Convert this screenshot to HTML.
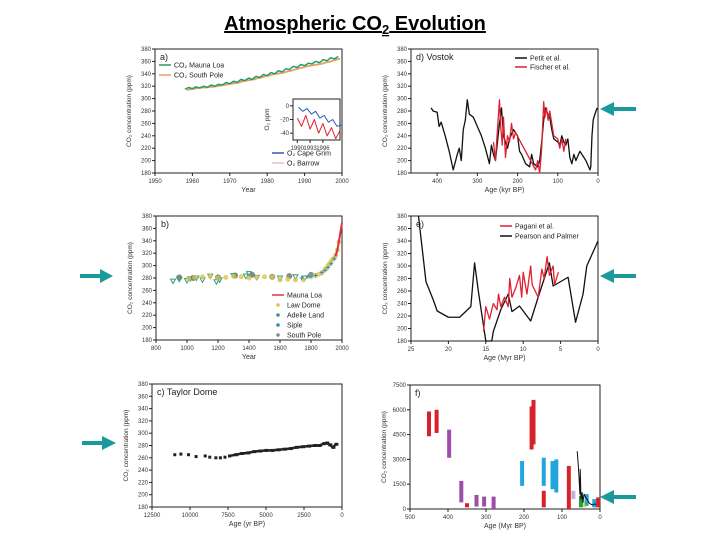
<!DOCTYPE html>
<html><head><meta charset="utf-8">
<style>
body{margin:0;background:#fff;}
svg{display:block;font-family:"Liberation Sans",sans-serif;}
</style></head>
<body>
<svg id="fig" width="720" height="540" viewBox="0 0 720 540">
<text x="355" y="30" text-anchor="middle" font-size="20" font-weight="bold" text-decoration="underline">Atmospheric CO<tspan font-size="13" dy="4">2</tspan><tspan dy="-4"> Evolution</tspan></text>
<g id="arrows">
<g><rect x="612" y="107" width="24" height="4" fill="#1a9a9a"/><polygon points="600,109 614,102 614,116" fill="#1a9a9a"/></g>
<g><rect x="612" y="274" width="24" height="4" fill="#1a9a9a"/><polygon points="600,276 614,269 614,283" fill="#1a9a9a"/></g>
<g><rect x="80" y="274" width="22" height="4" fill="#1a9a9a"/><polygon points="113,276 100,269 100,283" fill="#1a9a9a"/></g>
<g><rect x="82" y="441" width="22" height="4" fill="#1a9a9a"/><polygon points="116,443 102,436 102,450" fill="#1a9a9a"/></g>
<g><rect x="612" y="495" width="24" height="4" fill="#1a9a9a"/><polygon points="600,497 614,490 614,504" fill="#1a9a9a"/></g>
</g>
</svg>
<script>
// ---- data ----
const co2Ticks = [180,200,220,240,260,280,300,320,340,360,380];
const aYears = [1958,1959,1960,1961,1962,1963,1964,1965,1966,1967,1968,1969,1970,1971,1972,1973,1974,1975,1976,1977,1978,1979,1980,1981,1982,1983,1984,1985,1986,1987,1988,1989,1990,1991,1992,1993,1994,1995,1996,1997,1998,1999];
const aMaunaLoa = [315,318,316,319,317,320,318,322,320,323,322,326,324,328,326,331,329,333,331,336,334,339,337,342,340,345,343,348,347,352,350,355,353,357,356,360,358,363,361,366,364,368];
const aSouthPole = [314,315,316,317,318,318,319,319,320,321,322,323,324,325,326,328,329,330,331,333,334,336,337,339,340,341,342,344,345,347,349,350,352,353,354,355,356,358,359,361,363,364];
const aXTicks = [1950,1960,1970,1980,1990,2000];
const insetYears = [1990,1991,1992,1993,1994,1995,1996,1997,1998,1999,2000];
const insetCapeGrim = [-2,-8,-4,-12,-8,-18,-14,-24,-20,-30,-28];
const insetBarrow = [-18,-30,-14,-34,-20,-40,-26,-44,-32,-48,-36];

const bLawDome = [[1010,279],[1050,281],[1100,282],[1150,283],[1200,280],[1250,281],[1300,283],[1350,282],[1400,280],[1450,281],[1500,282],[1550,282],[1600,277],[1650,278],[1700,277],[1750,277],[1800,282],[1830,284],[1850,286],[1870,288],[1890,294],[1900,296],[1910,300],[1920,303],[1930,307],[1940,310],[1950,312],[1960,317],[1970,325],[1980,338]];
const bAdelie = [[910,275],[950,278],[1000,276],[1020,279],[1060,280],[1100,277],[1150,283],[1190,274],[1210,277],[1300,284],[1380,283],[1400,287],[1450,281],[1600,280],[1700,282],[1760,280]];
const bSiple = [[1740,280],[1780,282],[1800,283],[1830,284],[1870,289],[1890,292],[1910,297],[1930,303],[1950,311]];
const bSouthPole = [[950,281],[1040,280],[1200,281],[1310,284],[1420,285],[1550,282],[1660,283],[1800,285]];
const bMaunaLoa = [[1958,315],[1970,325],[1980,339],[1990,354],[2000,369]];
const bXTicks = [800,1000,1200,1400,1600,1800,2000];

const cTaylor = [[11000,265],[10600,266],[10100,265],[9600,262],[9000,263],[8700,261],[8300,260],[8000,260],[7700,261],[7400,263],[7000,265],[6600,267],[6200,268],[5800,270],[5400,271],[5000,272],[4600,272],[4200,273],[3800,274],[3400,275],[3000,277],[2600,278],[2200,279],[1800,280],[1500,280],[1200,283],[1000,284],[800,281],[600,277],[400,282]];
const cXTicks = [12500,10000,7500,5000,2500,0];

const dPetit = [[415,285],[410,280],[400,278],[395,255],[390,262],[380,240],[370,215],[360,185],[350,210],[345,220],[340,200],[335,250],[330,265],[325,298],[320,275],[310,270],[300,255],[290,240],[280,220],[270,195],[265,225],[260,210],[255,200],[250,230],[245,260],[240,285],[235,240],[225,220],[220,235],[210,250],[200,240],[195,215],[190,210],[180,195],[170,190],[165,210],[160,195],[150,190],[145,200],[140,230],[135,265],[130,285],[125,275],[120,270],[115,250],[110,235],[100,230],[95,225],[90,240],[85,230],[80,225],[75,235],[70,205],[65,195],[60,210],[55,200],[45,215],[40,210],[30,200],[20,185],[18,190],[15,240],[12,265],[10,270],[5,280],[2,285]];
const dFischer = [[260,230],[255,200],[250,250],[245,298],[242,255],[238,225],[235,270],[230,205],[225,240],[220,230],[215,260],[210,235],[205,245],[155,185],[150,200],[145,180],[140,220],[135,295],[132,270],[128,285],[124,265],[120,280],[115,260],[110,240],[100,235],[95,220],[90,235],[85,215],[80,235]];
const dXTicks = [400,300,200,100,0];

const ePearson = [[24,380],[23,275],[22,245],[21.5,228],[20,218],[18.5,218],[17,235],[16.5,305],[16,260],[15,180],[14.2,180],[14,195],[13,230],[12,255],[11.5,227],[10.5,236],[9,212],[8,250],[6.5,305],[6,268],[4,282],[3,210],[2,255],[1.5,300],[0,340]];
const ePagani = [[15.3,195],[15,235],[14.5,215],[14,240],[13.5,230],[13.3,255],[13,235],[12.5,250],[12,235],[11.8,280],[11.5,250],[11,265],[10.5,285],[10.2,250],[10,290],[9.5,255],[9,300],[8.8,270],[8,250],[7.5,295],[7.2,280],[6.8,315],[6.5,285],[6,300],[5.8,270],[5.3,290]];
const eXTicks = [25,20,15,10,5,0];

const fAges = [450,430,397,365,350,325,305,280,205,180,175,148,148,125,115,82,70,50,40,35,15,5];
const fLow  = [4400,4600,3100,400,100,150,150,0,1400,3600,3900,1400,100,1200,1000,0,600,100,100,200,100,100];
const fHigh = [5900,6000,4800,1700,350,850,750,750,2900,6200,6600,3100,1100,2900,3000,2600,1100,800,500,900,600,700];
const fColors = ['#d8222a','#d8222a','#9b4fa8','#9b4fa8','#d8222a','#9b4fa8','#9b4fa8','#9b4fa8','#21a5dd','#d8222a','#d8222a','#21a5dd','#d8222a','#21a5dd','#21a5dd','#d8222a','#c8b0d8','#1f9a4a','#e8e040','#21a5dd','#21a5dd','#d8222a'];
const fBlack = [[60,3500],[57,2600],[55,1800],[53,900],[52,2400],[50,600],[47,1000],[45,400],[42,900],[38,700],[34,600],[30,400],[25,300],[20,250],[15,300],[10,280]];
const fYTicks = [0,1500,3000,4500,6000,7500];
const fXTicks = [500,400,300,200,100,0];

// ---- drawing ----
const NS = 'http://www.w3.org/2000/svg';
const svg = document.getElementById('fig');
function mk(tag, attrs, parent){const e=document.createElementNS(NS,tag);for(const k in attrs)e.setAttribute(k,attrs[k]);(parent||svg).appendChild(e);return e;}
function panel(name, box, xd, yd, xt, yt, xlabel, ylabel, tag){
  const g = mk('g',{});
  
  
  const sx = v => box.l + (v - xd[0])/(xd[1]-xd[0])*(box.r-box.l);
  const sy = v => box.b - (v - yd[0])/(yd[1]-yd[0])*(box.b-box.t);
  const fr = mk('rect',{x:box.l,y:box.t,width:box.r-box.l,height:box.b-box.t,fill:'none',stroke:'#222','stroke-width':1},g);
  
  
  xt.forEach(v=>{const x=sx(v);mk('line',{x1:x,y1:box.b,x2:x,y2:box.b+3,stroke:'#222'},g);
    const t=mk('text',{x:x,y:box.b+10,'text-anchor':'middle','font-size':6,fill:'#333'},g);t.textContent=v;
    
    });
  yt.forEach(v=>{const y=sy(v);mk('line',{x1:box.l-3,y1:y,x2:box.l,y2:y,stroke:'#222'},g);
    const t=mk('text',{x:box.l-4,y:y+2,'text-anchor':'end','font-size':6,fill:'#333'},g);t.textContent=v;
    
    });
  const xl=mk('text',{x:(box.l+box.r)/2,y:box.b+19,'text-anchor':'middle','font-size':7,fill:'#333'},g);xl.textContent=xlabel;
  
  
  const cy=(box.t+box.b)/2, cx=box.l-24;
  const yl=mk('text',{x:cx,y:cy,'text-anchor':'middle','font-size':6.5,fill:'#333',transform:`rotate(-90 ${cx} ${cy})`},g);yl.textContent=ylabel;
  
  
  const pl=mk('text',{x:box.l+5,y:box.t+11,'font-size':9,fill:'#222'},g);pl.textContent=tag;
  
  
  return {g,sx,sy};
}
function line(p, pts, color, w, name){
  const el=mk('polyline',{points:pts.map(d=>p.sx(d[0])+','+p.sy(d[1])).join(' '),fill:'none',stroke:color,'stroke-width':w,'stroke-linejoin':'round'},p.g);
  
  
}
function legendLine(g,x,y,color,text,name){
  mk('line',{x1:x,y1:y,x2:x+12,y2:y,stroke:color,'stroke-width':1.5},g);
  const t=mk('text',{x:x+15,y:y+2.5,'font-size':7,fill:'#222'},g);t.textContent=text;
  
  
}
const co2Lab='CO₂ concentration (ppm)';

// a
const pa=panel('panel-a',{l:155,t:49,r:342,b:173},[1950,2000],[180,380],aXTicks,co2Ticks,'Year',co2Lab,'a)');
line(pa,aYears.map((y,i)=>[y+0.5,aSouthPole[i]]),'#e8a060',1.8,'south-pole-line');
line(pa,aYears.map((y,i)=>[y,aMaunaLoa[i]]),'#2a9a6a',1.5,'mauna-loa-line');
legendLine(pa.g,159,65,'#2a9a6a','CO₂ Mauna Loa','legend-mauna-loa');
legendLine(pa.g,159,75,'#e8a060','CO₂ South Pole','legend-south-pole');
const pin=panel('inset-o2',{l:293,t:99,r:340,b:140},[1989,2000],[-50,10],[1990,1993,1996],[0,-20,-40],'','O₂ ppm','');
line(pin,insetYears.map((y,i)=>[y,insetBarrow[i]]),'#e02030',1,'barrow-line');
line(pin,insetYears.map((y,i)=>[y+0.3,insetCapeGrim[i]]),'#2a5ab0',1,'cape-grim-line');
legendLine(pa.g,272,153,'#2a5ab0','O₂ Cape Grim','legend-cape-grim');
legendLine(pa.g,272,163,'#e8c0c0','O₂ Barrow','legend-barrow');

// b
const pb=panel('panel-b',{l:156,t:216,r:342,b:340},[800,2000],[180,380],bXTicks,co2Ticks,'Year',co2Lab,'b)');
bSouthPole.forEach(d=>{const c=mk('circle',{cx:pb.sx(d[0]),cy:pb.sy(d[1]),r:3,fill:'#8a8a8a'},pb.g);});
bAdelie.forEach(d=>{const x=pb.sx(d[0]),y=pb.sy(d[1]);const c=mk('polygon',{points:`${x-2.5},${y-2} ${x+2.5},${y-2} ${x},${y+2.5}`,fill:'none',stroke:'#3a9a80','stroke-width':1},pb.g);});
bLawDome.forEach(d=>{const c=mk('circle',{cx:pb.sx(d[0]),cy:pb.sy(d[1]),r:2.5,fill:'#d8c44a','fill-opacity':0.8},pb.g);});
bSiple.forEach(d=>{const x=pb.sx(d[0]),y=pb.sy(d[1]);const c=mk('path',{d:`M${x-2},${y}H${x+2}M${x},${y-2}V${y+2}`,stroke:'#3090c0','stroke-width':1},pb.g);});
line(pb,bMaunaLoa,'#e03040',2,'mauna-loa-b-line');
legendLine(pb.g,272,295,'#e03040','Mauna Loa','legend-b-mauna-loa');
[['Law Dome','#d8c44a'],['Adelie Land','#3a9a80'],['Siple','#3090c0'],['South Pole','#8a8a8a']].forEach((l,i)=>{
  const y=305+i*10; mk('circle',{cx:278,cy:y,r:1.8,fill:l[1]},pb.g);
  const t=mk('text',{x:287,y:y+2.5,'font-size':7,fill:'#222'},pb.g);t.textContent=l[0];
  
  });

// c
const pc=panel('panel-c',{l:152,t:384,r:342,b:507},[12500,0],[180,380],cXTicks,co2Ticks,'Age (yr BP)',co2Lab,'c) Taylor Dome');
cTaylor.forEach((d,i)=>{const c=mk('rect',{x:pc.sx(d[0])-1.5,y:pc.sy(d[1])-1.5,width:i>9?4:3,height:i>9?3:3,fill:'#222'},pc.g);});
line(pc,cTaylor.slice(9),'#222',2.5,'taylor-dome-line');

// d
const pd=panel('panel-d',{l:411,t:49,r:598,b:173},[465,0],[180,380],dXTicks,co2Ticks,'Age (kyr BP)',co2Lab,'d) Vostok');
line(pd,dPetit,'#111',1.3,'petit-line');
line(pd,dFischer,'#e02030',1.3,'fischer-line');
legendLine(pd.g,515,58,'#111','Petit et al.','legend-petit');
legendLine(pd.g,515,67,'#e02030','Fischer et al.','legend-fischer');

// e
const pe=panel('panel-e',{l:411,t:216,r:598,b:341},[25,0],[180,380],eXTicks,co2Ticks,'Age (Myr BP)',co2Lab,'e)');
line(pe,ePearson,'#111',1.3,'pearson-line');
line(pe,ePagani,'#e02030',1.3,'pagani-line');
legendLine(pe.g,500,226,'#e02030','Pagani et al.','legend-pagani');
legendLine(pe.g,500,236,'#111','Pearson and Palmer','legend-pearson');

// f
const pf=panel('panel-f',{l:410,t:385,r:600,b:509},[500,0],[0,7500],fXTicks,fYTicks,'Age (Myr BP)',co2Lab,'f)');
fAges.forEach((a,i)=>{const y1=pf.sy(fHigh[i]),y0=pf.sy(fLow[i]);
  const r=mk('rect',{x:pf.sx(a)-2,y:y1,width:4,height:y0-y1,fill:fColors[i]},pf.g);
  
  });
line(pf,fBlack,'#111',1,'proxy-black-line');
</script>
</body></html>
